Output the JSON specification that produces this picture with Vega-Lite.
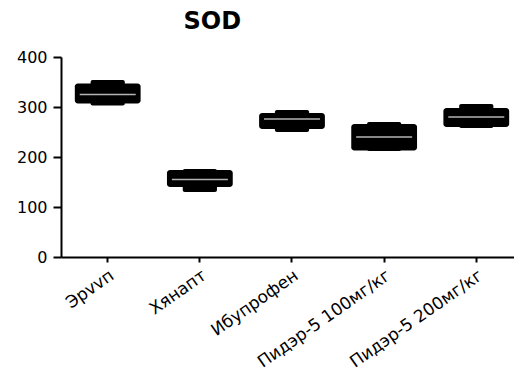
{
  "$schema": "https://vega.github.io/schema/vega-lite/v6.json",
  "autosize": "none",
  "width": 462,
  "height": 200,
  "padding": {"left": 61, "top": 57, "right": 0, "bottom": 124},
  "background": "white",
  "config": {"view": {"stroke": null}},
  "title": {
    "text": "SOD",
    "anchor": "start",
    "dx": 167,
    "offset": -4,
    "baseline": "alphabetic",
    "font": "DejaVu Sans",
    "fontSize": 24,
    "fontWeight": "bold",
    "color": "black"
  },
  "data": {
    "values": [
      {"group": "Эрvvп", "min": 303, "q1": 307, "median": 325, "q3": 347, "max": 354},
      {"group": "Хянапт", "min": 130, "q1": 140, "median": 155, "q3": 174, "max": 176},
      {"group": "Ибупрофен", "min": 250, "q1": 256, "median": 276, "q3": 288, "max": 294},
      {"group": "Пидэр-5 100мг/кг", "min": 212, "q1": 213, "median": 240, "q3": 266, "max": 270},
      {"group": "Пидэр-5 200мг/кг", "min": 258, "q1": 260, "median": 280, "q3": 298, "max": 306}
    ]
  },
  "encoding": {
    "x": {
      "field": "group",
      "type": "nominal",
      "sort": null,
      "scale": {"paddingInner": 0.286, "paddingOuter": 0.15},
      "axis": {
        "title": null,
        "labelAngle": -35,
        "labelFont": "DejaVu Sans",
        "labelFontSize": 17,
        "labelColor": "black",
        "labelPadding": 5,
        "domainColor": "black",
        "domainWidth": 2,
        "tickColor": "black",
        "tickWidth": 2,
        "tickSize": 5
      }
    }
  },
  "layer": [
    {
      "mark": {"type": "bar", "color": "black", "width": {"band": 0.52}, "cornerRadius": 2},
      "encoding": {
        "y": {
          "field": "min",
          "type": "quantitative",
          "scale": {"domain": [0, 400], "nice": false},
          "axis": {
            "title": null,
            "values": [0, 100, 200, 300, 400],
            "grid": false,
            "labelFont": "DejaVu Sans",
            "labelFontSize": 16,
            "labelColor": "black",
            "labelPadding": 6,
            "domainColor": "black",
            "domainWidth": 2,
            "tickColor": "black",
            "tickWidth": 2,
            "tickSize": 8
          }
        },
        "y2": {"field": "max"}
      }
    },
    {
      "mark": {"type": "bar", "color": "black", "cornerRadius": 3},
      "encoding": {
        "y": {"field": "q1", "type": "quantitative"},
        "y2": {"field": "q3"}
      }
    },
    {
      "mark": {"type": "tick", "color": "white", "thickness": 1.5, "size": 56, "strokeDash": [6, 3]},
      "encoding": {
        "y": {"field": "median", "type": "quantitative"}
      }
    }
  ]
}
